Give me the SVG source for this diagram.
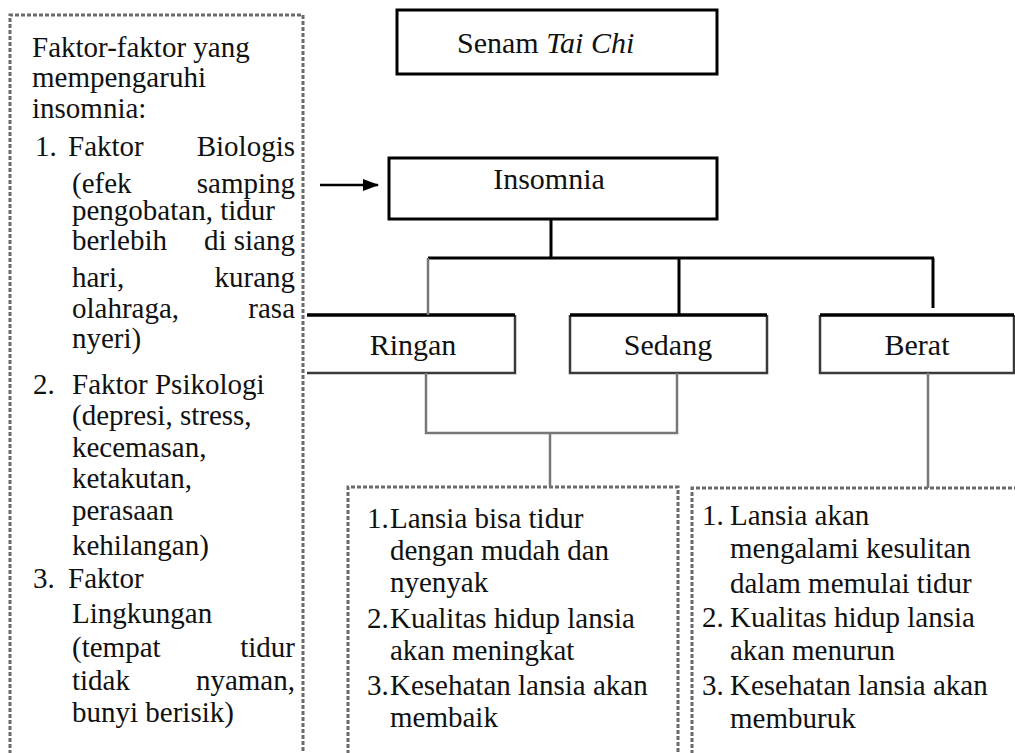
<svg xmlns="http://www.w3.org/2000/svg" width="1015" height="753" viewBox="0 0 1015 753" font-family="Liberation Serif, DejaVu Serif, serif">
<style>
.t{font-size:29px;fill:#111}
.h{font-size:30px;fill:#111}
.e{text-anchor:end}
.m{text-anchor:middle}
.dash{fill:none;stroke:#6a6a6a;stroke-width:3;stroke-dasharray:4 2}
.box{fill:#fff;stroke:#000;stroke-width:3}
.top{stroke:#000;stroke-width:3.5;fill:none}
.side{stroke:#3a3a3a;stroke-width:2.5;fill:none}
.bk{stroke:#000;stroke-width:3;fill:none}
.gr{stroke:#777;stroke-width:2.5;fill:none}
</style>
<defs>
<marker id="ah" markerWidth="16" markerHeight="12" refX="15" refY="6" orient="auto" markerUnits="userSpaceOnUse">
<path d="M0,0 L16,6 L0,12 Z" fill="#000"/>
</marker>
</defs>
<rect width="1015" height="753" fill="#fff"/>

<g id="faktor">
<path class="dash" d="M10,760 V15 H303 V760"/>
<text class="t" x="32" y="57">Faktor-faktor yang</text>
<text class="t" x="32" y="87">mempengaruhi</text>
<text class="t" x="32" y="118">insomnia:</text>
<text class="t" x="35" y="156">1.</text><text class="t" x="68" y="156">Faktor</text><text class="t e" x="295" y="156">Biologis</text>
<text class="t" x="72" y="193">(efek</text><text class="t e" x="295" y="193">samping</text>
<text class="t" x="72" y="220">pengobatan, tidur</text>
<text class="t" x="72" y="250">berlebih</text><text class="t e" x="295" y="250">di siang</text>
<text class="t" x="72" y="287">hari,</text><text class="t e" x="295" y="287">kurang</text>
<text class="t" x="72" y="318">olahraga,</text><text class="t e" x="295" y="318">rasa</text>
<text class="t" x="72" y="348">nyeri)</text>
<text class="t" x="33" y="394">2.</text><text class="t" x="72" y="394">Faktor Psikologi</text>
<text class="t" x="72" y="425">(depresi, stress,</text>
<text class="t" x="72" y="457">kecemasan,</text>
<text class="t" x="72" y="488">ketakutan,</text>
<text class="t" x="72" y="520">perasaan</text>
<text class="t" x="72" y="555">kehilangan)</text>
<text class="t" x="33" y="588">3.</text><text class="t" x="68" y="588">Faktor</text>
<text class="t" x="72" y="623">Lingkungan</text>
<text class="t" x="72" y="657">(tempat</text><text class="t e" x="295" y="657">tidur</text>
<text class="t" x="72" y="690">tidak</text><text class="t e" x="295" y="690">nyaman,</text>
<text class="t" x="72" y="722">bunyi berisik)</text>
</g>

<g id="senam">
<rect class="box" x="397" y="10" width="320" height="64"/>
<text class="h" x="457" y="53">Senam <tspan font-style="italic">Tai Chi</tspan></text>
</g>

<g id="insomnia">
<rect class="box" x="389" y="158" width="328" height="61"/>
<text class="h m" x="549" y="189">Insomnia</text>
</g>

<g id="ringan">
<path class="side" d="M515,315 V373 H307"/>
<path class="top" d="M307,315 H515"/>
<text class="h m" x="413" y="355">Ringan</text>
</g>

<g id="sedang">
<path class="side" d="M570,315 V373 H767 V315"/>
<path class="top" d="M570,315 H767"/>
<text class="h m" x="668" y="355">Sedang</text>
</g>

<g id="berat">
<path class="side" d="M820,315 V373 H1014 V315"/>
<path class="top" d="M820,315 H1014"/>
<text class="h m" x="917" y="355">Berat</text>
</g>

<g id="hasil-baik">
<path class="dash" d="M348,760 V487 H678 V760"/>
<text class="t" x="367" y="528">1.</text><text class="t" x="390" y="528">Lansia bisa tidur</text>
<text class="t" x="390" y="560">dengan mudah dan</text>
<text class="t" x="390" y="592">nyenyak</text>
<text class="t" x="367" y="628">2.</text><text class="t" x="390" y="628">Kualitas hidup lansia</text>
<text class="t" x="390" y="660">akan meningkat</text>
<text class="t" x="367" y="695">3.</text><text class="t" x="390" y="695">Kesehatan lansia akan</text>
<text class="t" x="390" y="727">membaik</text>
</g>

<g id="hasil-buruk">
<path class="dash" d="M692,760 V488 H1020"/>
<text class="t" x="702" y="525">1.</text><text class="t" x="730" y="525">Lansia akan</text>
<text class="t" x="730" y="558">mengalami kesulitan</text>
<text class="t" x="730" y="593">dalam memulai tidur</text>
<text class="t" x="702" y="627">2.</text><text class="t" x="730" y="627">Kualitas hidup lansia</text>
<text class="t" x="730" y="660">akan menurun</text>
<text class="t" x="702" y="695">3.</text><text class="t" x="730" y="695">Kesehatan lansia akan</text>
<text class="t" x="730" y="728">memburuk</text>
</g>

<g id="connectors">
<line x1="320" y1="185" x2="378" y2="185" stroke="#000" stroke-width="2.5" marker-end="url(#ah)"/>
<path class="bk" d="M551,219 V258"/>
<path class="bk" d="M428,258 H934"/>
<path class="gr" d="M428,258 V315"/>
<path class="bk" d="M679,258 V315"/>
<path class="bk" d="M933,258 V308"/>
<path class="gr" d="M426,373 V433 H677 V373"/>
<path class="gr" d="M550,433 V487"/>
<path class="gr" d="M928,373 V488"/>
</g>
</svg>
